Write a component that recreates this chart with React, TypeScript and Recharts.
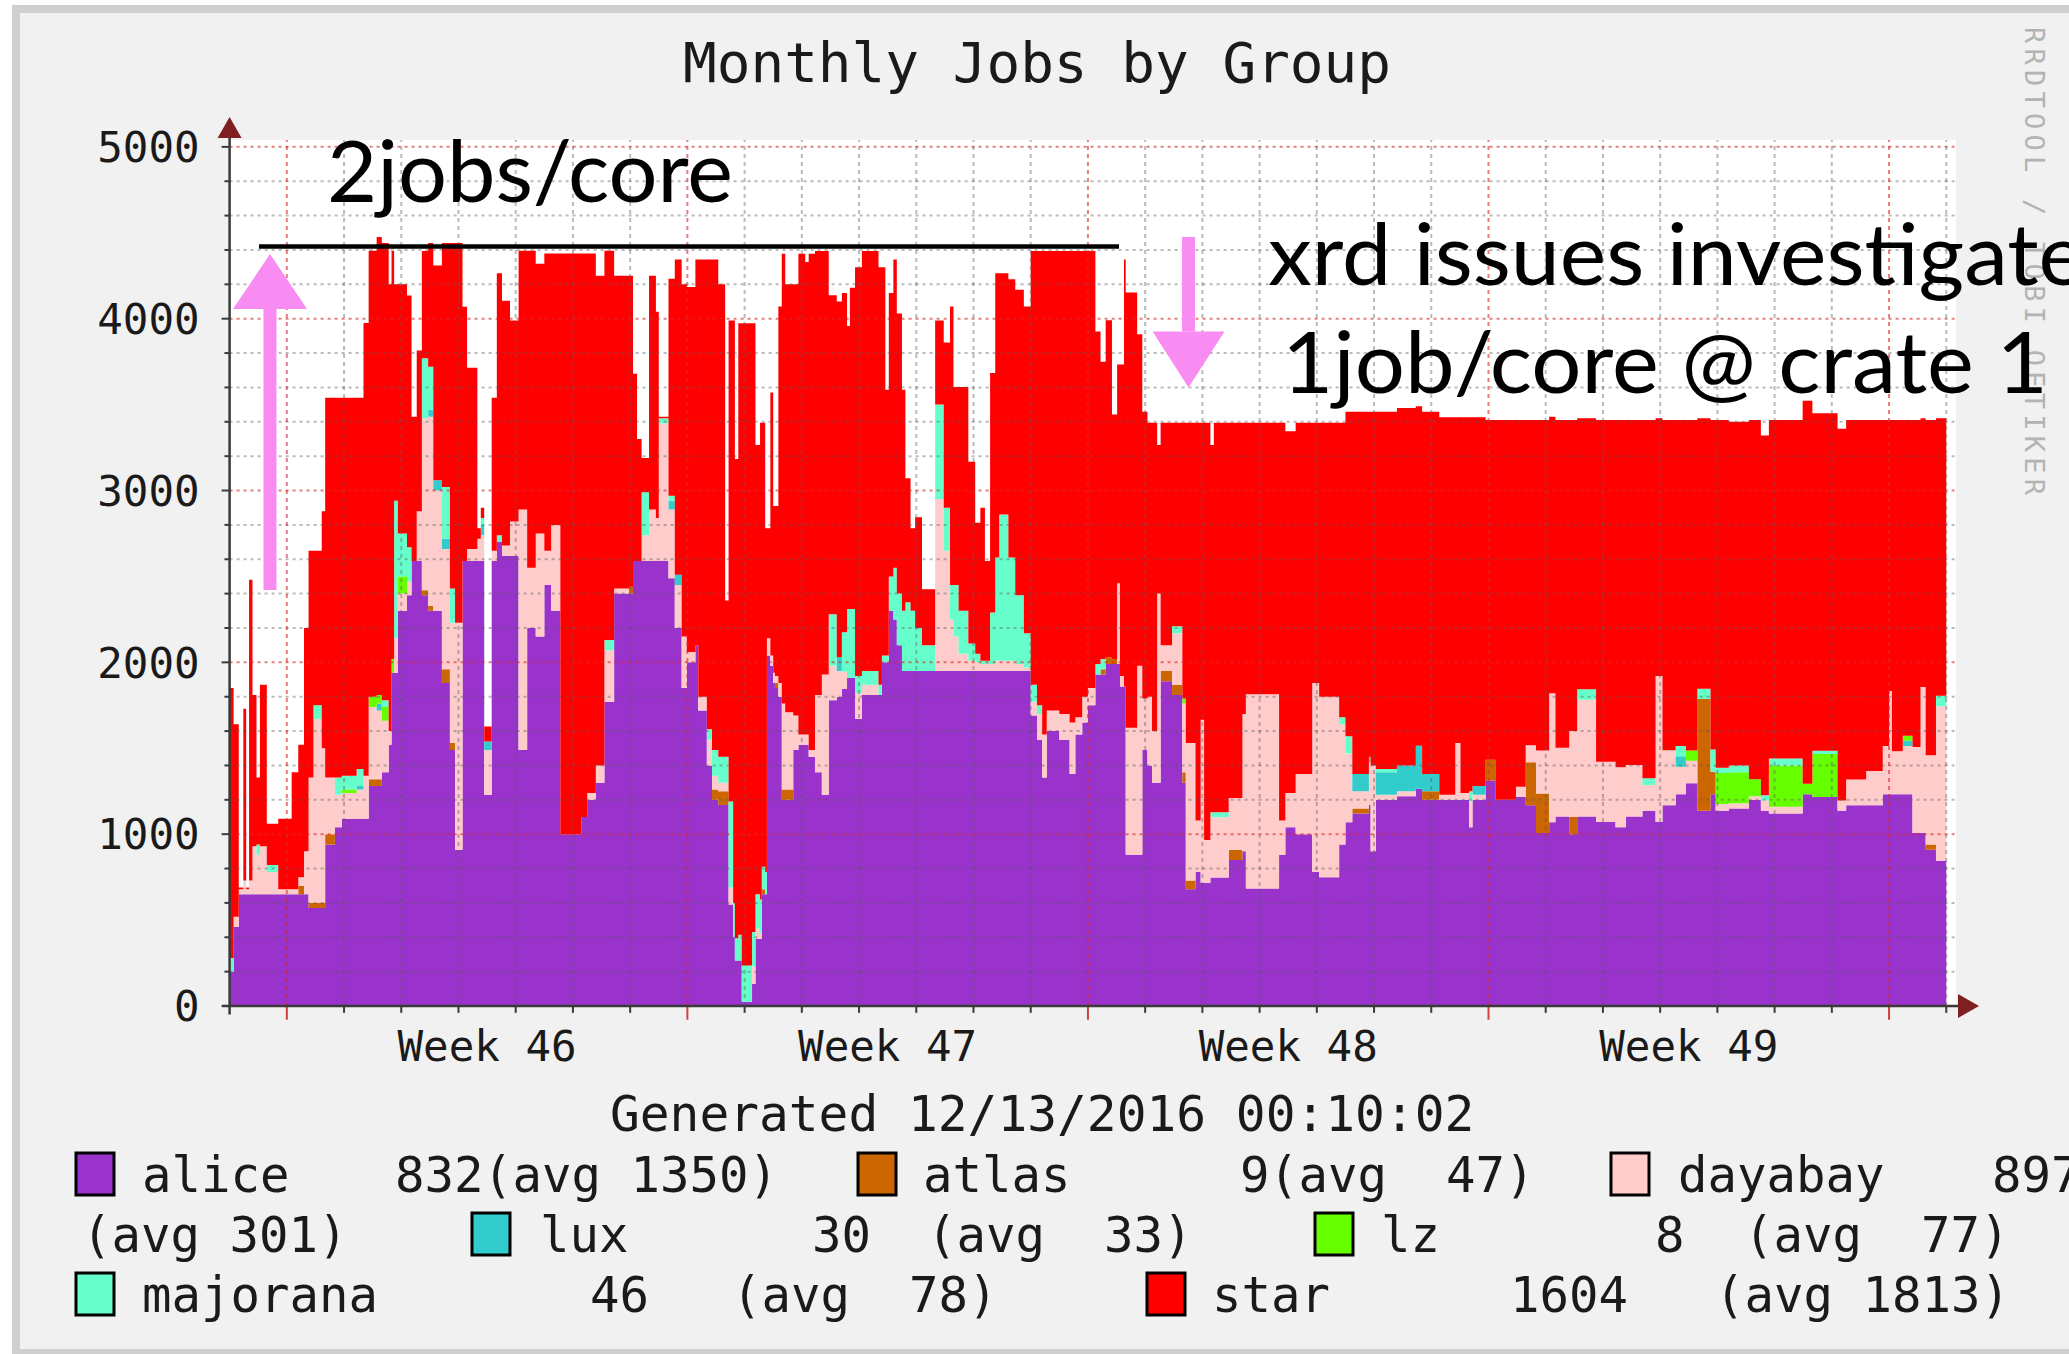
import React from 'react';
import {
  AreaChart, Area, XAxis, YAxis, CartesianGrid, ReferenceLine, ReferenceDot,
} from 'recharts';

// Monthly Jobs by Group (rrdtool style stacked areas)
// x = days since the start of the 30 day window, values = running jobs

const days = [
  // week 45/46
  0, 0.07, 0.16, 0.24, 0.29, 0.34, 0.4, 0.47, 0.53, 0.65, 0.85, 1.085, 1.2, 1.3, 1.38,
  1.465, 1.61, 1.67, 1.84, 1.96, 2.22, 2.34, 2.43, 2.57, 2.66, 2.78, 2.83, 2.875, 2.94, 3.1,
  3.18, 3.27, 3.36, 3.47, 3.56, 3.71, 3.85, 3.94, 4.07, 4.15, 4.33, 4.39, 4.45, 4.58, 4.67,
  4.76, 4.9, 5.05, 5.2, 5.35, 5.5, 5.62, 5.78, 6.05, 6.15, 6.25, 6.4, 6.55, 6.72, 6.98,
  7.05, 7.12, 7.2, 7.33, 7.45,
  // week 47
  7.5, 7.67, 7.78, 7.9, 7.99, 8.14, 8.19, 8.34, 8.43, 8.54, 8.66, 8.72, 8.8, 8.83, 8.89,
  8.95, 9.13, 9.19, 9.27, 9.3, 9.36, 9.39, 9.45, 9.5, 9.53, 9.59, 9.65, 9.71, 9.85, 9.94,
  10.06, 10.12, 10.23, 10.35, 10.47, 10.61, 10.7, 10.79, 10.84, 10.93, 11.05, 11.34, 11.4, 11.46, 11.52,
  11.6, 11.66, 11.75, 11.81, 11.9, 11.98, 12.1, 12.33, 12.48, 12.59, 12.65, 12.74, 12.91, 13.03, 13.12,
  13.2, 13.29, 13.38, 13.45, 13.61, 13.73, 13.88, 14, 14.11, 14.2, 14.28, 14.5, 14.68, 14.78, 14.9,
  // week 48
  15, 15.13, 15.22, 15.31, 15.42, 15.51, 15.56, 15.63, 15.66, 15.86, 15.95, 16.04, 16.12, 16.21, 16.27,
  16.47, 16.65, 16.71, 16.88, 16.97, 17.03, 17.14, 17.2, 17.46, 17.7, 17.76, 18.34, 18.45, 18.63, 18.92,
  19.04, 19.39, 19.5, 19.62, 19.91, 19.94, 20.03, 20.4, 20.73, 20.84, 21.14, 21.42, 21.51, 21.66, 21.72,
  21.95, 22.12,
  // week 49
  22.48, 22.65, 22.83, 23.06, 23.17, 23.41, 23.55, 23.88, 24.22, 24.4, 24.69, 24.92, 25.04, 25.27, 25.45,
  25.65, 25.88, 25.97, 26.2, 26.55, 26.76, 26.9, 27.49, 27.66, 28.1, 28.25, 28.6, 28.89, 29, 29.05,
  29.24, 29.41, 29.55, 29.64, 29.82, 30,
];

const alice = [
  200, 460, 650, 650, 650, 650, 650, 650, 650, 650, 650, 650, 650, 650, 570,
  570, 570, 940, 1040, 1090, 1090, 1090, 1280, 1280, 1360, 1520, 1940, 1940, 2300, 2390,
  2590, 2590, 2390, 2300, 2300, 1880, 1490, 910, 2590, 2590, 2590, 2590, 1230, 2590, 2700,
  2620, 2620, 1490, 2200, 2150, 2450, 2300, 1000, 1000, 1100, 1200, 1300, 1770, 2400, 2400,
  2590, 2590, 2590, 2590, 2590,
  2590, 2490, 2200, 1850, 2000, 2100, 1720, 1400, 1200, 1170, 1170, 590, 400, 265, 265,
  25, 130, 390, 390, 650, 650, 2040, 1980, 1880, 1850, 1800, 1200, 1200, 1490, 1520,
  1520, 1450, 1360, 1230, 1780, 1800, 1845, 1910, 1910, 1670, 1810, 1810, 2000, 2000, 2300,
  2250, 2100, 1950, 1950, 1950, 1950, 1950, 1950, 1950, 1950, 1950, 1950, 1950, 1950, 1950,
  1950, 1950, 1950, 1950, 1950, 1950, 1950, 1690, 1550, 1330, 1600, 1550, 1350, 1580, 1650,
  1750, 1930, 1930, 1990, 1990, 1990, 1860, 1860, 880, 880, 1490, 1400, 1300, 1300, 1890,
  1810, 1300, 680, 780, 716, 716, 748, 748, 850, 900, 684, 880, 1040, 1000, 780,
  750, 940, 1070, 1120, 1170, 900, 1200, 1220, 1265, 1200, 1200, 1200, 1200, 1040, 1200,
  1313, 1200,
  1216, 1168, 1007, 1070, 1103, 1000, 1103, 1071, 1040, 1103, 1136, 1071, 1168, 1233, 1297,
  1136, 1233, 1136, 1150, 1200, 1136, 1120, 1233, 1216, 1136, 1168, 1168, 1233, 1233, 1233,
  1233, 1007, 1007, 910, 845, 845,
];

const atlas = [
  0, 0, 0, 0, 0, 0, 0, 0, 0, 0, 0, 0, 50, 0, 30,
  30, 30, 60, 0, 0, 0, 0, 40, 40, 0, 0, 0, 0, 0, 0,
  0, 0, 30, 30, 0, 80, 40, 0, 0, 0, 0, 0, 0, 0, 0,
  0, 0, 0, 0, 0, 0, 0, 0, 0, 0, 0, 0, 0, 0, 40,
  0, 0, 0, 0, 0,
  0, 0, 0, 0, 0, 0, 0, 0, 60, 80, 80, 0, 0, 0, 0,
  0, 0, 0, 0, 30, 0, 0, 0, 0, 30, 0, 60, 60, 0, 0,
  0, 0, 0, 0, 0, 0, 0, 0, 0, 0, 0, 0, 0, 0, 0,
  0, 0, 0, 0, 0, 0, 0, 0, 0, 0, 0, 0, 0, 0, 0,
  0, 0, 0, 0, 0, 0, 0, 0, 0, 0, 0, 0, 0, 0, 0,
  0, 0, 30, 40, 30, 0, 0, 0, 0, 0, 0, 0, 0, 0, 60,
  60, 60, 50, 0, 0, 0, 0, 0, 60, 0, 0, 0, 0, 0, 0,
  0, 0, 0, 30, 0, 0, 0, 0, 0, 50, 0, 0, 0, 0, 0,
  120, 0,
  0, 250, 230, 0, 0, 100, 0, 0, 0, 0, 0, 0, 0, 0, 0,
  650, 130, 0, 0, 0, 0, 0, 0, 0, 0, 0, 0, 0, 0, 0,
  0, 0, 0, 30, 0, 0,
];

const dayabay = [
  0, 60, 30, 80, 30, 80, 280, 230, 280, 130, 30, 30, 50, 250, 730,
  1070, 900, 330, 190, 150, 170, 250, 420, 400, 300, 80, 0, 200, 100, 80,
  0, 290, 1000, 1100, 700, 700, 700, 1320, 0, 70, 130, 150, 260, 60, 0,
  60, 200, 1400, 350, 600, 200, 500, 0, 0, 0, 40, 100, 300, 30, 0,
  0, 0, 150, 300, 250,
  800, 400, 250, 300, 60, 0, 80, 150, 80, 50, 50, 100, 0, 0, 0,
  0, 100, 60, 30, 0, 0, 100, 60, 60, 40, 80, 500, 450, 200, 60,
  60, 40, 450, 700, 200, 150, 100, 0, 0, 150, 60, 0, 0, 0, 0,
  0, 0, 0, 0, 0, 0, 0, 1000, 700, 300, 200, 100, 60, 50, 40,
  40, 40, 60, 60, 60, 40, 20, 80, 150, 250, 120, 150, 300, 100, 150,
  100, 0, 0, 0, 0, 470, 60, 0, 740, 1100, 300, 400, 300, 1100, 150,
  300, 400, 800, 300, 950, 250, 350, 350, 300, 800, 1130, 200, 200, 350, 1100,
  1050, 700, 400, 100, 250, 500, 30, 30, 0, 0, 30, 330, 40, 150, 30,
  0, 0,
  60, 100, 250, 750, 400, 500, 680, 350, 350, 300, 150, 850, 320, 160, 130,
  0, 0, 40, 30, 20, 60, 40, 0, 0, 60, 150, 200, 280, 600, 250,
  280, 500, 850, 520, 900, 900,
];

const lux = [
  0, 0, 0, 0, 0, 0, 0, 0, 0, 0, 0, 0, 0, 0, 0,
  0, 0, 0, 0, 0, 20, 0, 0, 40, 0, 0, 0, 0, 0, 0,
  0, 0, 0, 40, 60, 60, 0, 0, 0, 0, 0, 60, 50, 0, 0,
  0, 0, 0, 0, 0, 0, 0, 0, 0, 0, 0, 0, 0, 0, 0,
  0, 0, 0, 0, 0,
  0, 50, 60, 0, 0, 0, 0, 0, 0, 0, 0, 0, 0, 0, 0,
  0, 0, 0, 0, 0, 0, 0, 0, 0, 0, 0, 0, 0, 0, 0,
  0, 0, 0, 0, 0, 80, 0, 0, 0, 0, 0, 0, 0, 0, 0,
  0, 0, 0, 0, 0, 0, 0, 0, 0, 0, 0, 0, 0, 0, 0,
  0, 0, 0, 0, 0, 0, 0, 0, 0, 0, 0, 0, 0, 0, 0,
  0, 0, 0, 0, 0, 0, 0, 0, 0, 0, 0, 0, 0, 0, 0,
  0, 0, 0, 0, 0, 0, 0, 0, 0, 0, 0, 0, 0, 0, 0,
  0, 0, 0, 100, 30, 0, 130, 150, 250, 100, 0, 0, 0, 0, 50,
  0, 0,
  0, 0, 0, 0, 0, 0, 0, 0, 0, 0, 0, 0, 0, 60, 0,
  0, 0, 0, 0, 0, 0, 0, 0, 0, 0, 0, 0, 0, 0, 0,
  30, 0, 0, 0, 0, 0,
];

const lz = [
  0, 0, 0, 0, 0, 0, 0, 0, 0, 0, 0, 0, 0, 0, 0,
  0, 0, 0, 0, 20, 0, 0, 60, 50, 80, 0, 80, 0, 100, 0,
  0, 0, 0, 0, 0, 0, 0, 0, 0, 0, 0, 0, 0, 0, 0,
  0, 0, 0, 0, 0, 0, 0, 0, 0, 0, 0, 0, 0, 0, 0,
  0, 0, 0, 0, 0,
  0, 0, 0, 0, 0, 0, 0, 0, 0, 0, 0, 0, 0, 0, 0,
  0, 0, 0, 0, 0, 0, 0, 0, 0, 0, 0, 0, 0, 0, 0,
  0, 0, 0, 0, 0, 0, 0, 0, 0, 0, 0, 0, 0, 0, 0,
  0, 0, 0, 0, 0, 0, 0, 0, 0, 0, 0, 0, 0, 0, 0,
  0, 0, 0, 0, 0, 0, 0, 0, 0, 0, 0, 0, 0, 0, 0,
  0, 0, 0, 0, 0, 0, 0, 0, 0, 0, 0, 0, 0, 0, 0,
  0, 30, 0, 0, 0, 0, 0, 0, 0, 0, 0, 0, 0, 0, 0,
  0, 0, 0, 0, 0, 0, 0, 0, 0, 0, 0, 0, 0, 0, 0,
  0, 0,
  0, 0, 0, 0, 0, 0, 0, 0, 0, 0, 0, 0, 0, 0, 60,
  0, 0, 180, 180, 100, 0, 240, 60, 250, 0, 0, 0, 0, 0, 0,
  30, 0, 0, 0, 0, 0,
];

const majorana = [
  80, 0, 0, 0, 0, 0, 0, 60, 0, 40, 0, 0, 0, 0, 0,
  80, 0, 0, 100, 80, 100, 0, 0, 0, 40, 0, 0, 800, 250, 200,
  0, 0, 350, 250, 0, 300, 200, 0, 0, 0, 0, 40, 0, 0, 40,
  0, 0, 0, 0, 0, 0, 0, 0, 0, 0, 0, 0, 60, 0, 0,
  0, 0, 250, 0, 0,
  30, 30, 0, 0, 0, 0, 0, 60, 150, 150, 150, 500, 200, 130, 150,
  210, 200, 200, 200, 130, 130, 0, 0, 0, 0, 0, 0, 0, 0, 0,
  0, 0, 0, 0, 300, 0, 230, 400, 400, 100, 80, 60, 40, 40, 200,
  300, 300, 350, 400, 350, 250, 150, 550, 250, 200, 300, 250, 100, 50, 20,
  20, 300, 600, 850, 600, 400, 200, 100, 50, 0, 0, 0, 0, 0, 0,
  0, 60, 60, 0, 0, 0, 0, 0, 0, 0, 0, 0, 0, 0, 0,
  40, 0, 0, 0, 0, 0, 30, 30, 0, 0, 0, 0, 0, 0, 0,
  0, 40, 100, 0, 0, 0, 20, 0, 0, 0, 0, 0, 0, 60, 0,
  0, 0,
  0, 0, 0, 0, 0, 0, 60, 0, 0, 0, 40, 0, 0, 60, 0,
  60, 130, 30, 40, 0, 30, 40, 0, 20, 0, 0, 0, 0, 0, 0,
  0, 0, 0, 0, 60, 0,
];

const star = [
  1570, 1120, 10, 1000, 10, 1750, 880, 390, 940, 240, 410, 680, 770, 1300, 1320,
  900, 1380, 2210, 2210, 2200, 2160, 2635, 2595, 2665, 2660, 2600, 2374, 1260, 1450, 1465,
  840, 935, 624, 720, 1250, 1420, 2010, 2210, 1480, 1055, 60, 60, 86, 890, 1525,
  1425, 1170, 1505, 1845, 1570, 1730, 1580, 3380, 3380, 3280, 3140, 2850, 2265, 1820, 1810,
  1090, 710, 200, 1360, 1200,
  10, 1262, 1835, 2050, 2124, 2245, 2545, 2735, 2855, 2750, 910, 2800, 3390, 2789, 3559,
  3739, 3544, 2615, 2774, 2584, 2001, 641, 1531, 970, 990, 2191, 2618, 2490, 2510, 2798,
  2750, 2888, 2584, 2464, 1856, 2070, 1975, 1648, 1870, 2380, 2444, 2430, 2260, 1547, 1650,
  1795, 1630, 1287, 721, 481, 645, 326, 490, 961, 1621, 1153, 1303, 1058, 763, 890,
  580, 1394, 1655, 1405, 1620, 1778, 1901, 2524, 2644, 2814, 2674, 2694, 2744, 2714, 2594,
  2544, 1936, 1729, 1961, 1422, 1273, 1813, 2485, 2532, 1930, 1668, 1594, 1794, 865, 1294,
  1184, 1604, 1864, 2314, 1728, 2428, 2137, 2266, 2184, 1694, 1580, 2314, 2105, 2044, 1514,
  1594, 1714, 1888, 2108, 2008, 2058, 2078, 2080, 1975, 2108, 2196, 1896, 2186, 2176, 2146,
  1977, 2210,
  2134, 1892, 1923, 1610, 1907, 1810, 1577, 1989, 2020, 2007, 2084, 1499, 1922, 1897, 1923,
  1574, 1917, 2024, 2000, 2090, 2094, 1970, 2230, 1964, 2164, 2092, 2042, 1897, 1577, 1927,
  1837, 1903, 1563, 1950, 1615, 1655,
];

const yTicks = [0, 1000, 2000, 3000, 4000, 5000];
const weekCenters = [4.5, 11.5, 18.5, 25.5];
const weekLabels = ['Week 46', 'Week 47', 'Week 48', 'Week 49'];
const weekStarts = [1, 8, 15, 22, 29];

// legend: name, last value, average
const groupNames = ['alice', 'atlas', 'dayabay', 'lux', 'lz', 'majorana', 'star'];
const groupLast = [832, 9, 897, 30, 8, 46, 1604];
const groupAvg = [1350, 47, 301, 33, 77, 78, 1813];

const COLORS: Record<string, string> = {
  alice: '#9933cc',
  atlas: '#cc6600',
  dayabay: '#ffcccc',
  lux: '#33cccc',
  lz: '#66ff00',
  majorana: '#66ffcc',
  star: '#ff0000',
};

const W = 2069;
const H = 1354;
const MONO = "'DejaVu Sans Mono', monospace";
const SANS = "Lato, 'Open Sans', sans-serif";
const PINK = '#f98cf3';
const MINOR = 'rgba(90,90,90,0.42)';
const MAJOR = 'rgba(215,40,40,0.6)';
const AXIS = '#3a3a3a';
const ARROW = '#7f1f1f';
const NBSP = '\u00a0';

// where each legend entry sits (rrdtool wraps the dayabay average onto row 2)
const LEGEND_LAYOUT = [
  { box: [76, 1153], name: [142, 1192], last: [395, 1192], avg: [483, 1192] },
  { box: [858, 1153], name: [923, 1192], last: [1240, 1192], avg: [1269, 1192] },
  { box: [1611, 1153], name: [1678, 1192], last: [1992, 1192], avg: [82, 1252] },
  { box: [472, 1213], name: [540, 1252], last: [812, 1252], avg: [927, 1252] },
  { box: [1315, 1213], name: [1381, 1252], last: [1655, 1252], avg: [1744, 1252] },
  { box: [76, 1273], name: [142, 1312], last: [590, 1312], avg: [732, 1312] },
  { box: [1147, 1273], name: [1212, 1312], last: [1510, 1312], avg: [1715, 1312] },
];

const minorY = Array.from({ length: 25 }, (_, i) => (i + 1) * 200).filter(v => v % 1000 !== 0);
const majorY = [1000, 2000, 3000, 4000, 5000];
const dayLines = Array.from({ length: 30 }, (_, i) => i + 1).filter(d => !weekStarts.includes(d));

function YTick({ x, y, payload }: any) {
  return (
    <text x={x} y={y} dy="0.36em" textAnchor="end" fontFamily={MONO} fontSize={42.5} fill="#1a1a1a">
      {payload.value}
    </text>
  );
}

function WeekTick({ x, y, payload }: any) {
  const i = weekCenters.indexOf(payload.value);
  return (
    <text x={x} y={y + 55} textAnchor="middle" fontFamily={MONO} fontSize={42.5} fill="#1a1a1a">
      {weekLabels[i]}
    </text>
  );
}

const upArrowHead = (p: any) => (
  <polygon points={`${p.cx - 12},${p.cy} ${p.cx + 12},${p.cy} ${p.cx},${p.cy - 21}`} fill={ARROW} />
);
const rightArrowHead = (p: any) => (
  <polygon points={`${p.cx},${p.cy - 12} ${p.cx},${p.cy + 12} ${p.cx + 21},${p.cy}`} fill={ARROW} />
);
const pinkUpHead = (p: any) => (
  <polygon points={`${p.cx - 37},${p.cy} ${p.cx + 37},${p.cy} ${p.cx},${p.cy - 55}`} fill={PINK} />
);
const pinkDownHead = (p: any) => (
  <polygon points={`${p.cx - 36},${p.cy} ${p.cx + 36},${p.cy} ${p.cx},${p.cy + 56}`} fill={PINK} />
);

export default function App() {
  const rows = days.map((day, i) => ({
    day,
    alice: alice[i],
    atlas: atlas[i],
    dayabay: dayabay[i],
    lux: lux[i],
    lz: lz[i],
    majorana: majorana[i],
    star: star[i],
  }));

  return (
    <div style={{ position: 'absolute', left: 0, top: 0, width: W, height: H, overflow: 'hidden', background: '#fff' }}>
      {/* rrdtool frame */}
      <div
        style={{
          position: 'absolute', left: 12, top: 5, width: 2090, height: 1349, boxSizing: 'border-box',
          background: '#f1f1f1', borderTop: '8px solid #cfcfcf', borderLeft: '8px solid #cfcfcf',
          borderBottom: '5px solid #cfcfcf',
        }}
      />

      <div style={{ position: 'absolute', left: 0, top: 0 }}>
        <AreaChart width={W} height={H} data={rows} margin={{ top: 140, right: 113, bottom: 288, left: 99.6 }}>
          <CartesianGrid horizontal={false} vertical={false} fill="#ffffff" />

          {groupNames.map(k => (
            <Area
              key={k}
              dataKey={k}
              stackId="jobs"
              type="stepAfter"
              fill={COLORS[k]}
              fillOpacity={1}
              stroke="none"
              isAnimationActive={false}
              dot={false}
              activeDot={false}
            />
          ))}

          {/* grid on top of the areas, like rrdtool */}
          {minorY.map(v => (
            <ReferenceLine key={`hy${v}`} y={v} stroke={MINOR} strokeWidth={2} strokeDasharray="3 4" />
          ))}
          {dayLines.map(d => (
            <ReferenceLine key={`vx${d}`} x={d} stroke={MINOR} strokeWidth={2} strokeDasharray="4 4" />
          ))}
          {majorY.map(v => (
            <ReferenceLine key={`my${v}`} y={v} stroke={MAJOR} strokeWidth={2} strokeDasharray="3 4" />
          ))}
          {weekStarts.map(d => (
            <ReferenceLine key={`mx${d}`} x={d} stroke={MAJOR} strokeWidth={2} strokeDasharray="4 4" />
          ))}

          {/* axis ticks */}
          {minorY.map(v => (
            <ReferenceLine key={`ty${v}`} segment={[{ x: -0.09, y: v }, { x: 0, y: v }]} stroke={AXIS} strokeWidth={2} ifOverflow="visible" />
          ))}
          {dayLines.map(d => (
            <ReferenceLine key={`tx${d}`} segment={[{ x: d, y: 0 }, { x: d, y: -40 }]} stroke={AXIS} strokeWidth={2} ifOverflow="visible" />
          ))}
          {weekStarts.map(d => (
            <ReferenceLine key={`tw${d}`} segment={[{ x: d, y: 0 }, { x: d, y: -80 }]} stroke="#d04040" strokeWidth={2} ifOverflow="visible" />
          ))}

          {/* axes with arrows */}
          <ReferenceLine segment={[{ x: 0, y: -50 }, { x: 0, y: 5060 }]} stroke={AXIS} strokeWidth={2.5} ifOverflow="visible" />
          <ReferenceLine segment={[{ x: -0.13, y: 0 }, { x: 30.21, y: 0 }]} stroke={AXIS} strokeWidth={2.5} ifOverflow="visible" />
          <ReferenceDot x={0} y={5051} r={1} ifOverflow="visible" shape={upArrowHead} />
          <ReferenceDot x={30.205} y={0} r={1} ifOverflow="visible" shape={rightArrowHead} />

          <XAxis
            type="number"
            dataKey="day"
            domain={[0, 30.17]}
            allowDataOverflow
            ticks={weekCenters}
            interval={0}
            tickLine={false}
            axisLine={false}
            tickSize={0}
            tickMargin={0}
            height={60}
            tick={<WeekTick />}
          />
          <YAxis
            type="number"
            domain={[0, 5040]}
            allowDataOverflow
            ticks={yTicks}
            interval={0}
            width={130}
            axisLine={false}
            tickLine={{ stroke: AXIS, strokeWidth: 2 }}
            tickSize={8}
            tickMargin={22}
            tick={<YTick />}
          />

          {/* slide annotations */}
          <ReferenceLine segment={[{ x: 0.514, y: 4420 }, { x: 15.543, y: 4420 }]} stroke="#000" strokeWidth={4.5} ifOverflow="visible" />
          <ReferenceLine segment={[{ x: 0.706, y: 2421 }, { x: 0.706, y: 4056 }]} stroke={PINK} strokeWidth={13} ifOverflow="visible" />
          <ReferenceDot x={0.706} y={4056} r={1} ifOverflow="visible" shape={pinkUpHead} />
          <ReferenceLine segment={[{ x: 16.758, y: 4475 }, { x: 16.758, y: 3925 }]} stroke={PINK} strokeWidth={13} ifOverflow="visible" />
          <ReferenceDot x={16.758} y={3925} r={1} ifOverflow="visible" shape={pinkDownHead} />
        </AreaChart>
      </div>

      <svg width={W} height={H} style={{ position: 'absolute', left: 0, top: 0, pointerEvents: 'none' }}>
        <text x={683} y={82} fontFamily={MONO} fontSize={56} fill="#1a1a1a">Monthly Jobs by Group</text>
        <text x={610} y={1131} fontFamily={MONO} fontSize={49.5} fill="#1a1a1a">Generated 12/13/2016 00:10:02</text>

        {groupNames.map((name, i) => {
          const l = LEGEND_LAYOUT[i];
          const avgText = `(avg ${String(groupAvg[i]).padStart(3, ' ')})`.replace(/ /g, NBSP);
          return (
            <g key={name} fontFamily={MONO} fontSize={49} fill="#1a1a1a">
              <rect x={l.box[0]} y={l.box[1]} width={38} height={42} fill={COLORS[name]} stroke="#000" strokeWidth={3} />
              <text x={l.name[0]} y={l.name[1]}>{name}</text>
              <text x={l.last[0]} y={l.last[1]}>{groupLast[i]}</text>
              <text x={l.avg[0]} y={l.avg[1]}>{avgText}</text>
            </g>
          );
        })}

        {/* rrdtool watermark */}
        <text
          x={2025}
          y={27}
          transform="rotate(90 2025 27)"
          fontFamily={MONO}
          fontSize={27}
          fill="#b3b3b3"
          textLength={468}
          lengthAdjust="spacing"
        >
          RRDTOOL / TOBI OETIKER
        </text>

        <g fontFamily={SANS} fontSize={86} fill="#000">
          <text x={327} y={202} textLength={406} lengthAdjust="spacingAndGlyphs">2jobs/core</text>
          <text x={1268} y={285} textLength={817} lengthAdjust="spacingAndGlyphs">xrd issues investigate</text>
          <text x={1282} y={393} textLength={766} lengthAdjust="spacingAndGlyphs">1job/core @ crate 1</text>
        </g>
      </svg>
    </div>
  );
}
